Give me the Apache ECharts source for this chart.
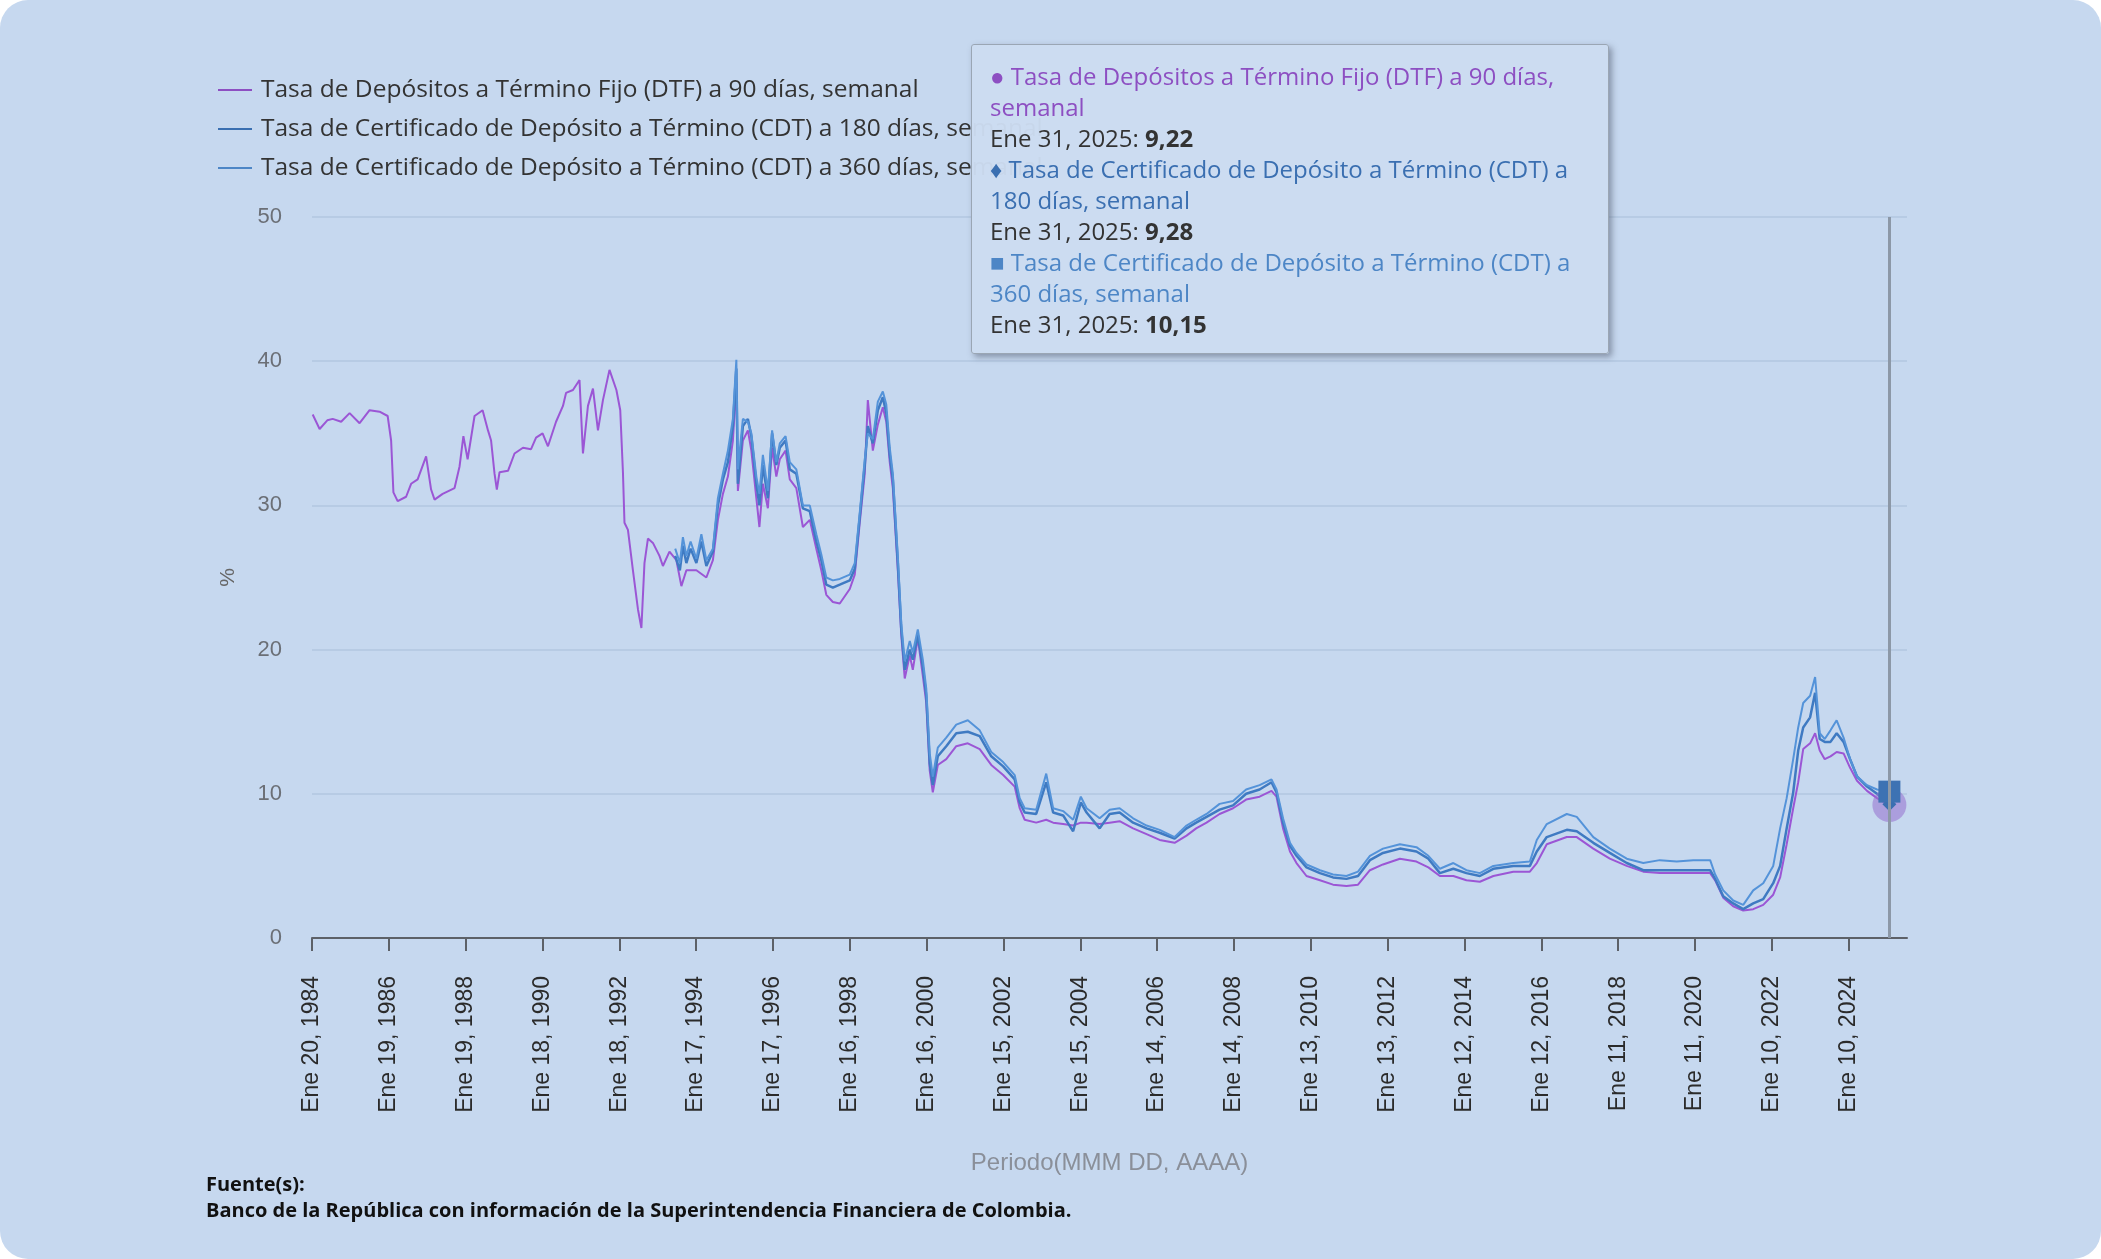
<!DOCTYPE html>
<html lang="es">
<head>
<meta charset="utf-8">
<title>DTF y CDT semanal</title>
<script src="https://cdn.jsdelivr.net/npm/echarts@6/dist/echarts.min.js"></script>
<style>
  html, body { margin: 0; padding: 0; background: #ffffff; }
  #chart { width: 2101px; height: 1259px; background: #c6d8ef; border-radius: 28px; }
</style>
</head>
<body>
<div id="chart"></div>
<script>
// nombres de las series
let NOMBRES = [
  'Tasa de Depósitos a Término Fijo (DTF) a 90 días, semanal',
  'Tasa de Certificado de Depósito a Término (CDT) a 180 días, semanal',
  'Tasa de Certificado de Depósito a Término (CDT) a 360 días, semanal'
];
let COLORES = ['#8d4fc2', '#3a6fb1', '#4d86c6'];

// marcas del eje x (cada dos años)
let ETIQUETAS_X = [
  'Ene 20, 1984', 'Ene 19, 1986', 'Ene 19, 1988', 'Ene 18, 1990', 'Ene 18, 1992',
  'Ene 17, 1994', 'Ene 17, 1996', 'Ene 16, 1998', 'Ene 16, 2000', 'Ene 15, 2002',
  'Ene 15, 2004', 'Ene 14, 2006', 'Ene 14, 2008', 'Ene 13, 2010', 'Ene 13, 2012',
  'Ene 12, 2014', 'Ene 12, 2016', 'Ene 11, 2018', 'Ene 11, 2020', 'Ene 10, 2022',
  'Ene 10, 2024'
];

// DTF 90 días (fecha en años decimales, tasa en %)
let fechasDTF = [
  1984.07, 1984.25, 1984.45, 1984.59, 1984.81, 1985.03, 1985.29, 1985.55, 1985.81, 1986.02,
  1986.11, 1986.17, 1986.28, 1986.5, 1986.63, 1986.8, 1987.02, 1987.15, 1987.24, 1987.45,
  1987.76, 1987.89, 1987.99, 1988.1, 1988.28, 1988.49, 1988.63, 1988.71, 1988.8, 1988.86,
  1988.93, 1989.15, 1989.32, 1989.54, 1989.75, 1989.88, 1990.05, 1990.19, 1990.4, 1990.58,
  1990.66, 1990.84, 1991.01, 1991.1, 1991.23, 1991.36, 1991.49, 1991.62, 1991.79, 1991.97,
  1992.07, 1992.14, 1992.18, 1992.27, 1992.4, 1992.53, 1992.62, 1992.7, 1992.79, 1992.92,
  1993.09, 1993.18, 1993.35, 1993.53, 1993.66, 1993.79, 1994.05, 1994.31, 1994.48, 1994.61,
  1994.74, 1994.87, 1995.0, 1995.09, 1995.13, 1995.26, 1995.39, 1995.48, 1995.61, 1995.69,
  1995.78, 1995.91, 1996.02, 1996.13, 1996.22, 1996.37, 1996.48, 1996.65, 1996.82, 1997.0,
  1997.17, 1997.3, 1997.43, 1997.6, 1997.78, 1998.04, 1998.17, 1998.3, 1998.43, 1998.51,
  1998.64, 1998.77, 1998.9, 1998.99, 1999.08, 1999.16, 1999.29, 1999.38, 1999.47, 1999.6,
  1999.68, 1999.81, 1999.94, 2000.03, 2000.12, 2000.2, 2000.33, 2000.55, 2000.81, 2001.11,
  2001.42, 2001.72, 2002.03, 2002.33, 2002.46, 2002.59, 2002.89, 2003.15, 2003.33, 2003.59,
  2003.85, 2004.05, 2004.2, 2004.54, 2004.8, 2005.06, 2005.41, 2005.76, 2006.1, 2006.49,
  2006.8, 2007.05, 2007.32, 2007.66, 2008.01, 2008.35, 2008.7, 2009.01, 2009.14, 2009.31,
  2009.49, 2009.66, 2009.92, 2010.27, 2010.61, 2010.96, 2011.26, 2011.57, 2011.91, 2012.35,
  2012.78, 2013.09, 2013.39, 2013.74, 2014.08, 2014.43, 2014.78, 2015.3, 2015.73, 2015.91,
  2016.17, 2016.69, 2016.95, 2017.38, 2017.81, 2018.25, 2018.68, 2019.11, 2019.55, 2019.98,
  2020.42, 2020.55, 2020.76, 2021.02, 2021.28, 2021.54, 2021.8, 2022.06, 2022.24, 2022.41,
  2022.58, 2022.71, 2022.84, 2023.02, 2023.15, 2023.27, 2023.4, 2023.55, 2023.71, 2023.89,
  2024.06, 2024.24, 2024.5, 2024.76, 2025.0822
];
let tasaDTF = [
  36.3, 35.3, 35.9, 36.0, 35.8, 36.4, 35.7, 36.6, 36.5, 36.2,
  34.5, 30.9, 30.3, 30.6, 31.5, 31.8, 33.4, 31.1, 30.4, 30.8,
  31.2, 32.7, 34.8, 33.2, 36.2, 36.6, 35.2, 34.5, 32.2, 31.1,
  32.3, 32.4, 33.6, 34.0, 33.9, 34.7, 35.0, 34.1, 35.8, 36.9,
  37.8, 38.0, 38.7, 33.6, 36.9, 38.1, 35.2, 37.3, 39.4, 38.0,
  36.6, 32.3, 28.8, 28.3, 25.5, 22.8, 21.5, 26.0, 27.7, 27.4,
  26.5, 25.8, 26.8, 26.2, 24.4, 25.5, 25.5, 25.0, 26.2, 29.0,
  30.8, 32.0, 34.5, 38.5, 31.0, 34.5, 35.2, 33.8, 30.5, 28.5,
  31.5, 29.8, 34.0, 32.0, 33.2, 33.8, 31.8, 31.2, 28.5, 29.0,
  27.0, 25.5, 23.8, 23.3, 23.2, 24.2, 25.2, 28.8, 32.2, 37.3,
  33.8, 35.6, 36.8, 35.8, 33.0, 31.2, 25.5, 21.0, 18.0, 19.6,
  18.6, 20.8, 18.2, 16.3, 11.6, 10.1, 12.0, 12.4, 13.3, 13.5,
  13.1, 12.0, 11.3, 10.5, 9.0, 8.2, 8.0, 8.2, 8.0, 7.9,
  7.8, 8.0, 8.0, 7.9, 8.0, 8.1, 7.6, 7.2, 6.8, 6.6,
  7.1, 7.6, 8.0, 8.6, 9.0, 9.6, 9.8, 10.2, 9.8, 7.6,
  6.0, 5.2, 4.3, 4.0, 3.7, 3.6, 3.7, 4.7, 5.1, 5.5,
  5.3, 4.9, 4.3, 4.3, 4.0, 3.9, 4.3, 4.6, 4.6, 5.2,
  6.5, 7.0, 7.0, 6.2, 5.5, 5.0, 4.6, 4.5, 4.5, 4.5,
  4.5, 4.0, 2.8, 2.2, 1.9, 2.0, 2.3, 3.0, 4.2, 6.5,
  9.0, 10.8, 13.1, 13.5, 14.2, 13.0, 12.4, 12.6, 12.9, 12.8,
  11.8, 10.9, 10.2, 9.7, 9.22
];

// CDT 180 y 360 días (misma malla de fechas)
let fechasCDT = [
  1993.5, 1993.62, 1993.7, 1993.79, 1993.9, 1994.05, 1994.18, 1994.31, 1994.48, 1994.61,
  1994.74, 1994.87, 1995.0, 1995.09, 1995.13, 1995.26, 1995.39, 1995.48, 1995.61, 1995.69,
  1995.78, 1995.91, 1996.02, 1996.13, 1996.22, 1996.37, 1996.48, 1996.65, 1996.82, 1997.0,
  1997.17, 1997.3, 1997.43, 1997.6, 1997.78, 1998.04, 1998.17, 1998.3, 1998.43, 1998.51,
  1998.64, 1998.77, 1998.9, 1998.99, 1999.08, 1999.16, 1999.29, 1999.38, 1999.47, 1999.6,
  1999.68, 1999.81, 1999.94, 2000.03, 2000.12, 2000.2, 2000.33, 2000.55, 2000.81, 2001.11,
  2001.42, 2001.72, 2002.03, 2002.33, 2002.46, 2002.59, 2002.89, 2003.15, 2003.33, 2003.59,
  2003.85, 2004.05, 2004.2, 2004.54, 2004.8, 2005.06, 2005.41, 2005.76, 2006.1, 2006.49,
  2006.8, 2007.05, 2007.32, 2007.66, 2008.01, 2008.35, 2008.7, 2009.01, 2009.14, 2009.31,
  2009.49, 2009.66, 2009.92, 2010.27, 2010.61, 2010.96, 2011.26, 2011.57, 2011.91, 2012.35,
  2012.78, 2013.09, 2013.39, 2013.74, 2014.08, 2014.43, 2014.78, 2015.3, 2015.73, 2015.91,
  2016.17, 2016.69, 2016.95, 2017.38, 2017.81, 2018.25, 2018.68, 2019.11, 2019.55, 2019.98,
  2020.42, 2020.55, 2020.76, 2021.02, 2021.28, 2021.54, 2021.8, 2022.06, 2022.24, 2022.41,
  2022.58, 2022.71, 2022.84, 2023.02, 2023.15, 2023.27, 2023.4, 2023.55, 2023.71, 2023.89,
  2024.06, 2024.24, 2024.5, 2024.76, 2025.0822
];
let tasaCDT180 = [
  26.5, 25.5, 27.2, 26.0, 27.0, 26.0, 27.5, 25.8, 26.8, 30.0,
  31.8, 33.0, 35.5, 39.5, 31.5, 35.5, 36.0, 34.8, 31.5, 30.0,
  32.8, 30.5, 35.0, 32.8, 34.0, 34.5, 32.5, 32.2, 29.8, 29.6,
  27.5, 26.2, 24.5, 24.3, 24.5, 24.8, 25.6, 29.2, 32.8, 35.5,
  34.3, 36.6, 37.5, 36.4, 33.5, 31.8, 26.0, 21.4, 18.6, 20.0,
  19.3, 21.0, 18.8, 16.8, 12.1, 10.6, 12.6, 13.3, 14.2, 14.3,
  14.0, 12.6, 11.9, 11.0, 9.4, 8.7, 8.6, 10.8, 8.7, 8.5,
  7.4, 9.4, 8.7, 7.6, 8.6, 8.7, 8.0, 7.6, 7.3, 6.9,
  7.6, 8.0, 8.4, 8.9, 9.2, 10.0, 10.3, 10.8, 10.1, 8.0,
  6.4, 5.7, 4.9, 4.5, 4.2, 4.1, 4.3, 5.4, 5.9, 6.2,
  6.0, 5.5, 4.5, 4.8, 4.5, 4.3, 4.8, 5.0, 5.0, 6.0,
  7.0, 7.5, 7.4, 6.6, 5.9, 5.2, 4.7, 4.7, 4.7, 4.7,
  4.7, 4.1, 2.9, 2.4, 2.0, 2.4, 2.7, 3.8, 5.0, 7.6,
  10.1, 13.0, 14.6, 15.3, 17.0, 13.8, 13.6, 13.6, 14.2, 13.6,
  12.4, 11.2, 10.5, 10.0, 9.28
];
let tasaCDT360 = [
  27.0, 26.0, 27.8, 26.5, 27.5, 26.3, 28.0, 26.2, 27.0, 30.5,
  32.2, 33.8, 36.0, 40.1, 32.5, 36.0, 35.8, 35.0, 32.0, 30.8,
  33.5, 31.0, 35.2, 33.0, 34.3, 34.8, 33.0, 32.5, 30.0, 30.0,
  28.0, 26.6, 25.0, 24.8, 24.9, 25.2, 26.0, 29.5, 33.2, 35.0,
  34.6, 37.2, 37.9, 37.0, 34.0, 32.2, 26.5, 21.8, 19.2, 20.6,
  19.8, 21.4, 19.3, 17.3, 12.8, 11.2, 13.2, 13.9, 14.8, 15.1,
  14.4, 12.9, 12.2, 11.3, 9.7, 9.0, 8.9, 11.4, 9.0, 8.8,
  8.2, 9.8, 9.0, 8.3, 8.9, 9.0, 8.3, 7.8, 7.5, 7.0,
  7.8, 8.2, 8.6, 9.3, 9.5, 10.3, 10.6, 11.0, 10.3, 8.3,
  6.6, 5.9, 5.1, 4.7, 4.4, 4.3, 4.6, 5.7, 6.2, 6.5,
  6.3, 5.7, 4.8, 5.2, 4.7, 4.5, 5.0, 5.2, 5.3, 6.8,
  7.9, 8.6, 8.4, 7.0, 6.2, 5.5, 5.2, 5.4, 5.3, 5.4,
  5.4, 4.4, 3.3, 2.6, 2.3, 3.3, 3.8, 5.0, 7.6, 9.7,
  12.4, 14.6, 16.3, 16.8, 18.1, 14.2, 13.8, 14.4, 15.1, 13.9,
  12.4, 11.2, 10.6, 10.3, 10.15
];

let MESES = ['Ene', 'Feb', 'Mar', 'Abr', 'May', 'Jun', 'Jul', 'Ago', 'Sep', 'Oct', 'Nov', 'Dic'];

// 'Ene 20, 1984' -> año decimal
function etiquetaAAnio(txt) {
  let m = txt.match(/(\w+) (\d+), (\d+)/);
  let dia = MESES.indexOf(m[1]) * 30.44 + (+m[2] - 1);
  return +m[3] + dia / 365;
}

function anioAEtiqueta(v) {
  let anio = Math.floor(v);
  let dia = Math.round((v - anio) * 365);
  let fecha = new Date(Date.UTC(anio, 0, 1 + dia));
  return MESES[fecha.getUTCMonth()] + ' ' + fecha.getUTCDate() + ', ' + fecha.getUTCFullYear();
}

let posX = ETIQUETAS_X.map(etiquetaAAnio);

let chart = echarts.init(document.getElementById('chart'));

let FUENTE = '"Open Sans", "Noto Sans", sans-serif';
let ARIAL = '"Liberation Sans", Arial, sans-serif';
let MARCAS = ['●', '♦', '■'];

let option = {
  animation: false,
  backgroundColor: 'transparent',
  legend: {
    orient: 'vertical',
    left: 213,
    top: 71,
    icon: 'rect',
    itemWidth: 34,
    itemHeight: 2,
    itemGap: 11,
    data: NOMBRES.map((n, i) => ({ name: n, itemStyle: { color: COLORES[i] } })),
    textStyle: { fontFamily: FUENTE, fontSize: 24.5, color: '#333', lineHeight: 28, padding: [0, 0, 0, 4] }
  },
  grid: { left: 312, right: 194, top: 217, bottom: 321, outerBoundsMode: 'none' },
  tooltip: {
    trigger: 'axis',
    alwaysShowContent: true,
    position: [971, 44],
    backgroundColor: 'rgba(204,220,241,0.97)',
    borderColor: '#9aa6b4',
    borderWidth: 1,
    padding: [15, 18, 14, 18],
    extraCssText: 'box-shadow: 3px 3px 6px rgba(80,90,110,0.55); border-radius: 3px; width: 600px; white-space: normal;',
    textStyle: { fontFamily: FUENTE, fontSize: 24, color: '#333' },
    axisPointer: { type: 'line', lineStyle: { color: '#8c98a7', width: 3, type: 'solid' } },
    formatter: function (params) {
      let partes = [
        NOMBRES[0].replace('días, semanal', 'días,<br>semanal'),
        NOMBRES[1].replace(' a 180', ' a<br>180'),
        NOMBRES[2].replace(' a 360', ' a<br>360')
      ];
      return params.map(p => {
        let i = p.seriesIndex;
        let valor = p.value[1].toFixed(2).replace('.', ',');
        return '<div style="line-height:31px;color:' + COLORES[i] + '">' + MARCAS[i] + ' ' + partes[i] + '</div>' +
          '<div style="line-height:31px">' + anioAEtiqueta(p.value[0]) + ': <b>' + valor + '</b></div>';
      }).join('');
    }
  },
  xAxis: {
    type: 'value',
    min: posX[0],
    max: 2025.54,
    name: 'Periodo(MMM DD, AAAA)',
    nameLocation: 'middle',
    nameGap: 213,
    nameTextStyle: { fontFamily: ARIAL, fontSize: 24, color: '#8a8f99' },
    axisLine: { show: true, lineStyle: { color: '#5d6168', width: 2 } },
    axisTick: { show: true, customValues: posX, length: 13, lineStyle: { color: '#5d6168', width: 2 } },
    axisLabel: {
      customValues: posX,
      rotate: 90,
      margin: 38,
      fontFamily: ARIAL,
      fontSize: 23,
      color: '#2b2b2b',
      formatter: v => ETIQUETAS_X[posX.indexOf(v)] || ''
    },
    splitLine: { show: false }
  },
  yAxis: {
    type: 'value',
    min: 0,
    max: 50,
    interval: 10,
    name: '%',
    nameLocation: 'middle',
    nameGap: 73,
    nameTextStyle: { fontFamily: ARIAL, fontSize: 21, color: '#666' },
    axisLine: { show: false },
    axisTick: { show: false },
    axisLabel: { margin: 30, fontFamily: ARIAL, fontSize: 22, color: '#6b6f76' },
    splitLine: { lineStyle: { color: '#b7cbe4', width: 2 } }
  },
  series: [
    {
      name: NOMBRES[0],
      type: 'line',
      data: fechasDTF.map((f, i) => [f, tasaDTF[i]]),
      showSymbol: false,
      symbol: 'circle',
      symbolSize: 34,
      itemStyle: { color: 'rgba(150,112,206,0.55)' },
      lineStyle: { color: COLORES[0], width: 2 },
      emphasis: { scale: false, focus: 'none', lineStyle: { width: 2 } }
    },
    {
      name: NOMBRES[1],
      type: 'line',
      data: fechasCDT.map((f, i) => [f, tasaCDT180[i]]),
      showSymbol: false,
      symbol: 'diamond',
      symbolSize: 14,
      itemStyle: { color: COLORES[1] },
      lineStyle: { color: COLORES[1], width: 2.5 },
      emphasis: { scale: false, focus: 'none', lineStyle: { width: 2.5 } }
    },
    {
      name: NOMBRES[2],
      type: 'line',
      data: fechasCDT.map((f, i) => [f, tasaCDT360[i]]),
      showSymbol: false,
      symbol: 'rect',
      symbolSize: 22,
      itemStyle: { color: '#3d72b3' },
      lineStyle: { color: COLORES[2], width: 2 },
      emphasis: { scale: false, focus: 'none', lineStyle: { width: 2 } }
    }
  ],
  graphic: [
    {
      type: 'text', left: 206, top: 1175,
      style: { text: 'Fuente(s):', fontFamily: FUENTE, fontWeight: 'bold', fontSize: 20, fill: '#111' }
    },
    {
      type: 'text', left: 206, top: 1201,
      style: {
        text: 'Banco de la República con información de la Superintendencia Financiera de Colombia.',
        fontFamily: FUENTE, fontWeight: 'bold', fontSize: 20, fill: '#111'
      }
    }
  ]
};

chart.setOption(option);
chart.dispatchAction({ type: 'showTip', seriesIndex: 0, dataIndex: fechasDTF.length - 1 });
</script>
</body>
</html>
